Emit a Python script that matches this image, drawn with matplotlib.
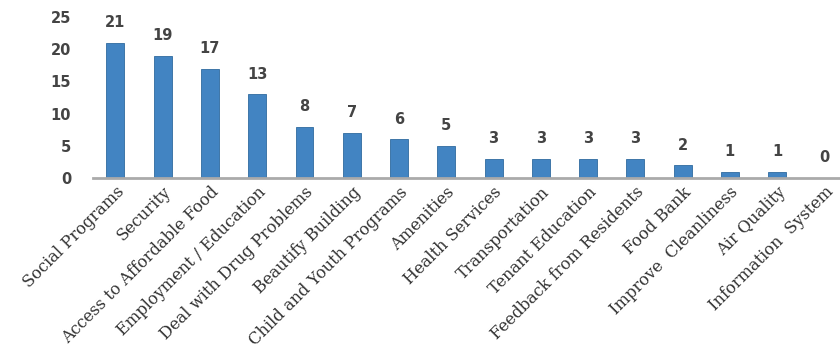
import matplotlib.pyplot as plt
import numpy as np

categories = ['Social Programs', 'Security', 'Access to Affordable Food',
              'Employment / Education', 'Deal with Drug Problems',
              'Beautify Building', 'Child and Youth Programs', 'Amenities',
              'Health Services', 'Transportation', 'Tenant Education',
              'Feedback from Residents', 'Food Bank', 'Improve  Cleanliness',
              'Air Quality', 'Information  System']
counts = [21, 19, 17, 13, 8, 7, 6, 5, 3, 3, 3, 3, 2, 1, 1, 0]
yticks = [0, 5, 10, 15, 20, 25]

fig = plt.figure(figsize=(8.4, 3.56), dpi=100)
ax = fig.add_axes([0.111, 0.5, 0.889, 0.452])

x = np.arange(len(categories))
ax.bar(x, counts, width=0.38, color='#4284c2', edgecolor='#2f6a9f', linewidth=0.6, zorder=2)

# value labels above each bar
for xi, v in zip(x, counts):
    ax.annotate(str(v), (xi, v), xytext=(0, 9), textcoords='offset points',
                ha='center', va='bottom', fontsize=10.5, fontweight='bold',
                color='#444444', family='DejaVu Sans')

ax.set_xlim(-0.47, 15.33)
ax.set_ylim(0, 25)
ax.set_yticks(yticks)
ax.set_yticklabels([str(t) for t in yticks], fontsize=10.5, fontweight='bold', color='#444444')
ax.set_xticks(x)
ax.set_xticklabels(categories, rotation=45, ha='right', rotation_mode='anchor',
                   fontsize=11.7, family='DejaVu Serif', color='#333333')
ax.tick_params(axis='both', length=0)
ax.tick_params(axis='y', pad=16)
ax.tick_params(axis='x', pad=4)

for side in ['top', 'right', 'left']:
    ax.spines[side].set_visible(False)
ax.spines['bottom'].set_color('#aaaaaa')
ax.spines['bottom'].set_linewidth(2)

fig.savefig('out.png', dpi=100)
